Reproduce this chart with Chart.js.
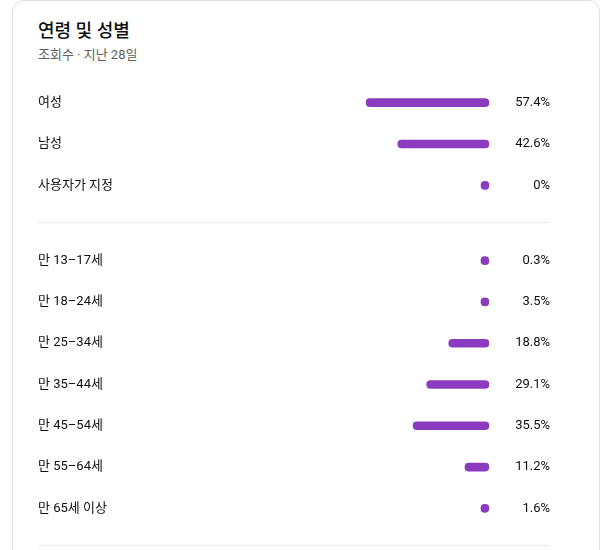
<!DOCTYPE html>
<html>
<head>
<meta charset="utf-8">
<script src="https://cdn.jsdelivr.net/npm/chart.js@4"></script>
<style>
  body { margin: 0; background: #fff; font-family: Roboto, "Noto Sans CJK KR", sans-serif; }
  .card { position: absolute; left: 12px; top: 0; width: 588px; height: 620px; border: 1px solid #e2e2e2; border-radius: 12px; box-sizing: border-box; }
  h1 { position: absolute; left: 38px; top: 16px; margin: 0; font-size: 18px; font-weight: 500; color: #0f0f0f; }
  .sub { position: absolute; left: 38px; top: 44px; font-size: 13px; color: #606060; }
  .rule { position: absolute; left: 38px; width: 512px; height: 1px; background: #ebebeb; }
  .box { position: absolute; left: 38px; width: 512px; }
</style>
</head>
<body>
<div class="card"></div>
<h1>연령 및 성별</h1>
<div class="sub">조회수 · 지난 28일</div>
<div class="box" style="top:82px;height:124px"><canvas id="gender"></canvas></div>
<div class="rule" style="top:222px"></div>
<div class="box" style="top:240px;height:289px"><canvas id="age"></canvas></div>
<div class="rule" style="top:545px"></div>
<script>
const genderLabels = ['여성', '남성', '사용자가 지정'];
const genderValues = [57.4, 42.6, 0];

const ageLabels = ['만 13–17세', '만 18–24세', '만 25–34세', '만 35–44세', '만 45–54세', '만 55–64세', '만 65세 이상'];
const ageValues = [0.3, 3.5, 18.8, 29.1, 35.5, 11.2, 1.6];

const BAR = '#8a3bbf';
const FONT = { family: 'Roboto, "Noto Sans CJK KR", sans-serif', size: 13 };

// fixed axis widths so the bars end at the same x in both charts
function fixWidth(w) {
  return function (s) {
    s.width = w;
    s.paddingTop = 0;
    s.paddingBottom = 0;
  };
}

function makeChart(id, labels, values) {
  return new Chart(document.getElementById(id), {
    type: 'bar',
    data: {
      labels: labels,
      datasets: [{
        data: values,
        backgroundColor: BAR,
        borderRadius: 4,
        borderSkipped: false,
        barThickness: 8,
        minBarLength: 8
      }]
    },
    options: {
      indexAxis: 'y',
      responsive: true,
      maintainAspectRatio: false,
      animation: false,
      layout: { padding: 0 },
      plugins: { legend: { display: false }, tooltip: { enabled: false } },
      scales: {
        x: { type: 'linear', reverse: true, min: -0.01, max: 100, bounds: 'data', display: false },
        y: {
          position: 'left',
          grid: { display: false },
          border: { display: false },
          ticks: { crossAlign: 'far', padding: 0, color: '#0f0f0f', font: FONT },
          afterFit: fixWidth(237)
        },
        y2: {
          type: 'category',
          labels: values.map(v => v + '%'),
          offset: true,
          position: 'right',
          grid: { display: false },
          border: { display: false },
          ticks: { crossAlign: 'far', padding: 0, color: '#0f0f0f', font: FONT },
          afterFit: fixWidth(61)
        }
      }
    }
  });
}

makeChart('gender', genderLabels, genderValues);
makeChart('age', ageLabels, ageValues);
</script>
</body>
</html>
